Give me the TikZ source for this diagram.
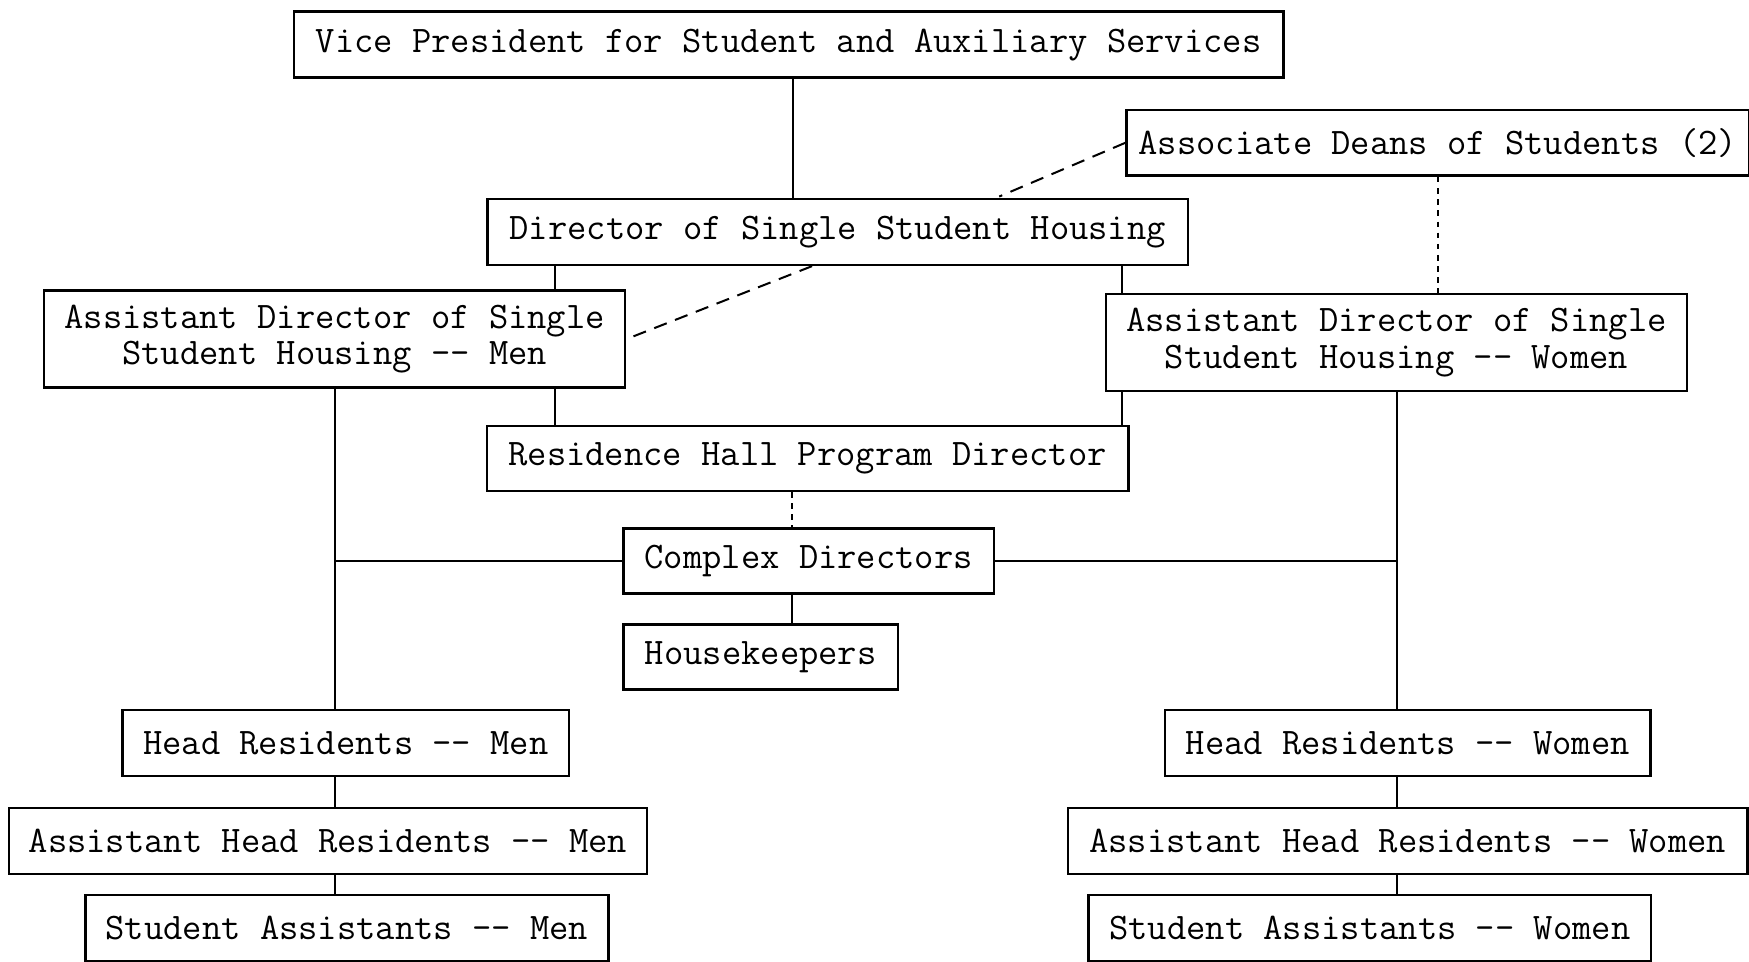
\documentclass[tikz,border=0pt]{standalone}
\usetikzlibrary{positioning}
\tikzset{%
  every unit/.style={
    draw,
    line width=2.2pt,
    font=\ttfamily\fontsize{33.6}{33}\selectfont,
    inner sep=0pt,
    align=center
  },
  link/.style={line width=1.8pt},
  staff link/.style={line width=1.8pt, dash pattern=on 12pt off 8pt},
  short link/.style={line width=1.5pt, dash pattern=on 5pt off 5pt},
}

\begin{document}
\begin{tikzpicture}[x=1pt, y=-1pt]
        \useasboundingbox (0,0) rectangle (1568,862);
        \clip (0,0) rectangle (1568,862);

        %%%%%%%%%%%%%%%%%%%%%%%%%%%%%%%%%%%%%%%%%%%%
        % Offices
        %%%%%%%%%%%%%%%%%%%%%%%%%%%%%%%%%%%%%%%%%%%%
        \foreach \n/\x/\y/\w/\h/\t in {
            vp/707/40/887/59/{Vice President for Student and Auxiliary Services},
            assoc/1289/128/558/59/{Associate Deans of Students (2)},
            dir/751/208/628/59/{Director of Single Student Housing},
            admen/300/304/521/87/{Assistant Director of Single\\Student Housing -{}- Men},
            adwomen/1252/307/521/87/{Assistant Director of Single\\Student Housing -{}- Women},
            rhpd/724/411/575/58/{Residence Hall Program Director},
            cd/725/503/332/58/{Complex Directors},
            hk/682/589/246/58/{Housekeepers}}
            \node [every unit, minimum width=\w pt, minimum height=\h pt] (\n) at (\x,\y) {\t};

        %%%%%%%%%%%%%%%%%%%%%%%%%%%%%%%%%%%%%%%%%%%%
        % Residence staff
        %%%%%%%%%%%%%%%%%%%%%%%%%%%%%%%%%%%%%%%%%%%%
        \foreach \n/\x/\y/\w/\t in {
            hrmen/310/666/400/{Head Residents -{}- Men},
            hrwomen/1262/666/435/{Head Residents -{}- Women},
            ahrmen/294/754/572/{Assistant Head Residents -{}- Men},
            ahrwomen/1262/754/609/{Assistant Head Residents -{}- Women},
            samen/311/832/469/{Student Assistants -{}- Men},
            sawomen/1228/832/504/{Student Assistants -{}- Women}}
            \node [every unit, minimum width=\w pt, minimum height=59pt] (\n) at (\x,\y) {\t};

        %%%%%%%%%%%%%%%%%%%%%%%%%%%%%%%%%%%%%%%%%%%%
        % Line of authority
        %%%%%%%%%%%%%%%%%%%%%%%%%%%%%%%%%%%%%%%%%%%%
        \draw [link] ([xshift=4pt]vp.south) coordinate (vpd) -- (vpd |- dir.north);

        % Director to assistant directors and program director
        \draw [link] ([xshift=62pt]dir.south west) coordinate (dl) -- (dl |- admen.north);
        \draw [link] ([xshift=-60pt]dir.south east) coordinate (dr) -- (dr |- adwomen.north);
        \draw [link] ([xshift=62pt]rhpd.north west) coordinate (rl) -- (rl |- admen.south);
        \draw [link] ([xshift=-7pt]rhpd.north east) coordinate (rr) -- (rr |- adwomen.south);

        % Assistant directors to head residents
        \draw [link] (admen.south) -- (admen.south |- hrmen.north);
        \draw [link] (adwomen.south) -- (adwomen.south |- hrwomen.north);
        \draw [link] (cd.west) -- (cd.west -| admen.south);
        \draw [link] (cd.east) -- (cd.east -| adwomen.south);
        \draw [link] ([xshift=-15pt]cd.south) coordinate (cdd) -- (cdd |- hk.north);

        % Residence staff chains
        \foreach \s in {men,women} {
            \draw [link] (ad\s.south |- hr\s.south) -- (ad\s.south |- ahr\s.north);
            \draw [link] (ad\s.south |- ahr\s.south) -- (ad\s.south |- sa\s.north);
        }

        %%%%%%%%%%%%%%%%%%%%%%%%%%%%%%%%%%%%%%%%%%%%
        % Staff relations
        %%%%%%%%%%%%%%%%%%%%%%%%%%%%%%%%%%%%%%%%%%%%
        \draw [staff link, shorten >=3pt] (assoc.west) -- ([xshift=142pt]dir.north);
        \draw [staff link, shorten >=5pt] ([xshift=-23pt]dir.south) -- (admen.east);
        \draw [short link] (assoc.south) -- (assoc.south |- adwomen.north);
        \draw [short link] ([xshift=-14pt]rhpd.south) coordinate (rd) -- (rd |- cd.north);
    \end{tikzpicture}
\end{document}
